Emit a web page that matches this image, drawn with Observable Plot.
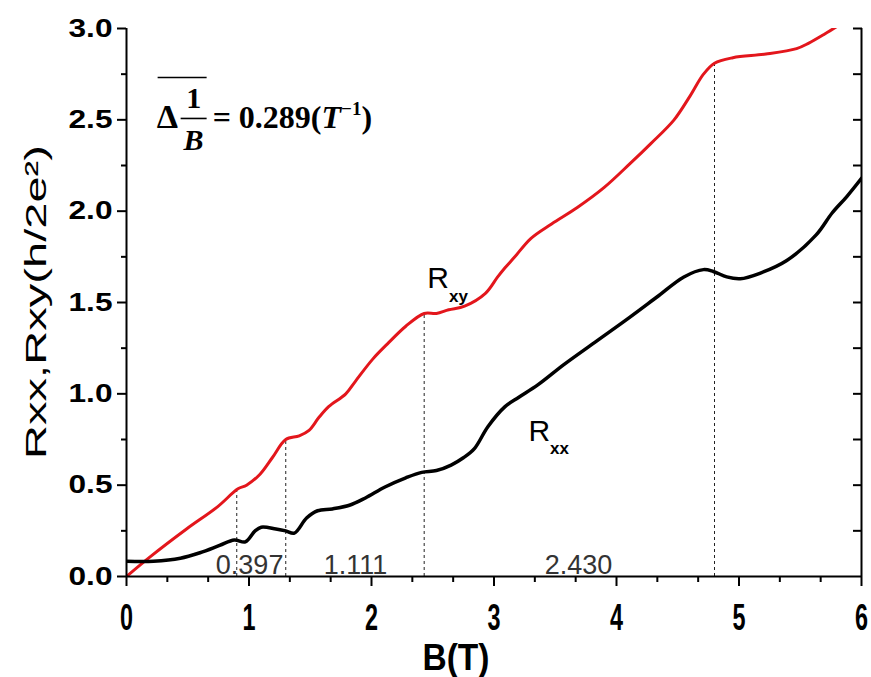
<!DOCTYPE html>
<html>
<head>
<meta charset="utf-8">
<script src="https://cdn.jsdelivr.net/npm/d3@7"></script>
<script src="https://cdn.jsdelivr.net/npm/@observablehq/plot@0.6"></script>
<style>
  html, body { margin: 0; padding: 0; background: #fff; }
  #chart { width: 871px; height: 677px; }
</style>
</head>
<body>
<div id="chart"></div>
<script>
// ---- Data ----
// Rxy (red) : magnetic field B (T) and resistance (h/2e^2)
const rxyB = [0, 0.19, 0.49, 0.74, 0.91, 0.98, 1.09, 1.19, 1.30, 1.41, 1.49, 1.57, 1.65, 1.79, 1.87, 2.01, 2.14, 2.28, 2.43, 2.53, 2.63, 2.76, 2.93, 3.03, 3.09, 3.17, 3.30, 3.47, 3.68, 3.90, 4.11, 4.28, 4.47, 4.60, 4.71, 4.80, 4.95, 5.22, 5.47, 5.57, 5.70, 5.82];
const rxyR = [0, 0.106, 0.26, 0.38, 0.48, 0.50, 0.56, 0.65, 0.75, 0.77, 0.80, 0.87, 0.93, 1.00, 1.07, 1.19, 1.28, 1.37, 1.44, 1.44, 1.46, 1.48, 1.55, 1.64, 1.69, 1.75, 1.85, 1.93, 2.02, 2.13, 2.26, 2.37, 2.50, 2.63, 2.75, 2.81, 2.84, 2.86, 2.89, 2.92, 2.97, 3.02];

// Rxx (black)
const rxxB = [0, 0.22, 0.44, 0.60, 0.76, 0.88, 0.97, 1.05, 1.10, 1.22, 1.30, 1.37, 1.47, 1.56, 1.68, 1.82, 1.95, 2.11, 2.28, 2.41, 2.53, 2.65, 2.75, 2.84, 2.95, 3.09, 3.20, 3.36, 3.57, 3.84, 4.11, 4.33, 4.55, 4.71, 4.79, 4.90, 5.01, 5.17, 5.39, 5.63, 5.76, 5.88, 6.0];
const rxxR = [0.084, 0.084, 0.10, 0.13, 0.17, 0.20, 0.19, 0.25, 0.27, 0.26, 0.25, 0.237, 0.32, 0.36, 0.37, 0.39, 0.43, 0.49, 0.54, 0.57, 0.58, 0.61, 0.65, 0.70, 0.82, 0.93, 0.98, 1.05, 1.16, 1.29, 1.42, 1.53, 1.64, 1.68, 1.67, 1.64, 1.63, 1.66, 1.73, 1.87, 1.99, 2.08, 2.18];

// dashed markers: B position and the Rxy value they reach
const dashB = [0.90, 1.30, 2.43, 4.80];
const dashTop = [0.485, 0.75, 1.44, 2.81];

// period labels along the bottom
const periodText = ["0.397", "1.111", "2.430"];
const periodB = [1.005, 1.87, 3.69];

// tick values
const xMajor = [0, 1, 2, 3, 4, 5, 6];
const xMinor = [1/3, 2/3, 4/3, 5/3, 7/3, 8/3, 10/3, 11/3, 13/3, 14/3, 16/3, 17/3];
const yMajor = [0, 0.5, 1.0, 1.5, 2.0, 2.5, 3.0];
const yMinor = [0.25, 0.75, 1.25, 1.75, 2.25, 2.75];
const yRight = [0.25, 0.5, 0.75, 1.0, 1.25, 1.5, 1.75, 2.0, 2.25, 2.5, 2.75, 3.0];

// text labels
const yTitle = "Rxx,Rxy(h/2e²)";
const xTitle = "B(T)";
const curveLabels = [
  {name: "R", sub: "xy", B: 2.46, R: 1.577, subDy: 14},
  {name: "R", sub: "xx", B: 3.285, R: 0.739, subDy: 13}
];
const formulaPos = {B: 0.25, R: 2.45};
const formulaValue = "= 0.289(";

// ---- build tables ----
const rxy = rxyB.map((b, i) => ({B: b, R: rxyR[i]}));
const rxx = rxxB.map((b, i) => ({B: b, R: rxxR[i]}));
const dashes = dashB.map((b, i) => ({B: b, top: dashTop[i]}));
const periods = periodB.map((b, i) => ({B: b, text: periodText[i]}));

const SANS = "'Liberation Sans', Arial, Helvetica, sans-serif";
const SERIF = "'Liberation Serif', 'Times New Roman', serif";
const RED = "#e3161c";
const empty = () => "";

const plot = Plot.plot({
  width: 871,
  height: 677,
  marginLeft: 126,
  marginRight: 10,
  marginTop: 28,
  marginBottom: 101,
  style: {fontFamily: SANS, background: "#fff", color: "#000", overflow: "visible"},
  x: {domain: [0, 6], label: null},
  y: {domain: [0, 3], label: null},
  marks: [
    Plot.axisY(yMajor, {tickSize: 9, tickPadding: 5, tickFormat: d3.format(".1f"), fontSize: 26, fontWeight: "bold", label: null, strokeWidth: 2}),
    Plot.axisY(yMinor, {tickSize: 5, tickFormat: empty, label: null, strokeWidth: 2}),
    Plot.axisY(yRight, {anchor: "right", tickSize: 9, dx: -9, tickFormat: empty, label: null, strokeWidth: 2}),
    Plot.axisX(xMajor, {tickSize: 10, tickPadding: 18, tickFormat: d3.format("d"), fontSize: 36, fontWeight: "bold", label: null, strokeWidth: 2}),
    Plot.axisX(xMinor, {tickSize: 6, tickFormat: empty, label: null, strokeWidth: 2}),
    Plot.ruleX(dashes, {x: "B", y1: 0, y2: "top", stroke: "#222", strokeWidth: 1, strokeDasharray: "3,3"}),
    Plot.text(periods, {x: "B", y: 0, text: "text", lineAnchor: "bottom", dy: -3, fontSize: 27, fill: "#333"}),
    Plot.line(rxy, {x: "B", y: "R", stroke: RED, strokeWidth: 3, curve: "catmull-rom", clip: true}),
    Plot.line(rxx, {x: "B", y: "R", stroke: "#000", strokeWidth: 3.5, curve: "catmull-rom", clip: true}),
    Plot.ruleX([0, 6], {stroke: "#000", strokeWidth: 2}),
    Plot.ruleY([0], {stroke: "#000", strokeWidth: 2})
  ]
});

document.getElementById("chart").appendChild(plot);

// ---- post-processing: fonts stretched like the original image ----
const svg = d3.select(plot);
svg.selectAll('g[aria-label="x-axis tick label"] text')
  .filter(function() { return this.textContent.length > 0; })
  .attr("textLength", 13).attr("lengthAdjust", "spacingAndGlyphs");
svg.selectAll('g[aria-label="y-axis tick label"] text')
  .filter(function() { return this.textContent.length > 0; })
  .attr("textLength", 44).attr("lengthAdjust", "spacingAndGlyphs");

const sx = plot.scale("x").apply, sy = plot.scale("y").apply;
const g = svg.append("g").attr("aria-label", "annotations").attr("text-anchor", "start");

// y title
g.append("text")
  .attr("transform", `translate(46,${(28 + 576) / 2}) rotate(-90)`)
  .attr("text-anchor", "middle")
  .attr("font-family", SANS).attr("font-size", 30).attr("fill", "#000")
  .attr("textLength", 314).attr("lengthAdjust", "spacingAndGlyphs")
  .text(yTitle);

// x title
g.append("text")
  .attr("x", 456).attr("y", 670)
  .attr("text-anchor", "middle")
  .attr("font-family", SANS).attr("font-size", 36).attr("font-weight", "bold").attr("fill", "#000")
  .attr("textLength", 67).attr("lengthAdjust", "spacingAndGlyphs")
  .text(xTitle);

// curve labels
for (const c of curveLabels) {
  const t = g.append("text")
    .attr("x", sx(c.B)).attr("y", sy(c.R))
    .attr("text-anchor", "start")
    .attr("font-family", SANS).attr("fill", "#000");
  t.append("tspan").attr("font-size", 30).attr("font-weight", 500).text(c.name);
  t.append("tspan").attr("font-size", 17).attr("font-weight", "bold").attr("dy", c.subDy).text(c.sub);
}

// formula  overline(Δ 1/B) = 0.289(T^-1)
{
  const px = sx(formulaPos.B), py = sy(formulaPos.R);
  const f = g.append("g").attr("font-family", SERIF).attr("font-weight", "bold").attr("fill", "#000").attr("text-anchor", "start");
  f.append("line").attr("x1", px + 1).attr("x2", px + 50).attr("y1", py - 51).attr("y2", py - 51)
    .attr("stroke", "#000").attr("stroke-width", 1.6);
  f.append("text").attr("x", px).attr("y", py).attr("font-size", 34).attr("text-anchor", "start").text("Δ");
  f.append("text").attr("x", px + 37).attr("y", py - 20).attr("text-anchor", "middle").attr("font-size", 30).text("1");
  f.append("line").attr("x1", px + 24).attr("x2", px + 50).attr("y1", py - 10).attr("y2", py - 10)
    .attr("stroke", "#000").attr("stroke-width", 1.6);
  f.append("text").attr("x", px + 37).attr("y", py + 22).attr("text-anchor", "middle").attr("font-size", 30)
    .attr("font-style", "italic").text("B");
  const e = f.append("text").attr("x", px + 56).attr("y", py).attr("font-size", 32).attr("text-anchor", "start");
  e.append("tspan").text(formulaValue);
  e.append("tspan").attr("font-style", "italic").text("T");
  e.append("tspan").attr("font-size", 19).attr("dy", -13).text("−1");
  e.append("tspan").attr("font-size", 32).attr("dy", 13).text(")");
}
</script>
</body>
</html>
